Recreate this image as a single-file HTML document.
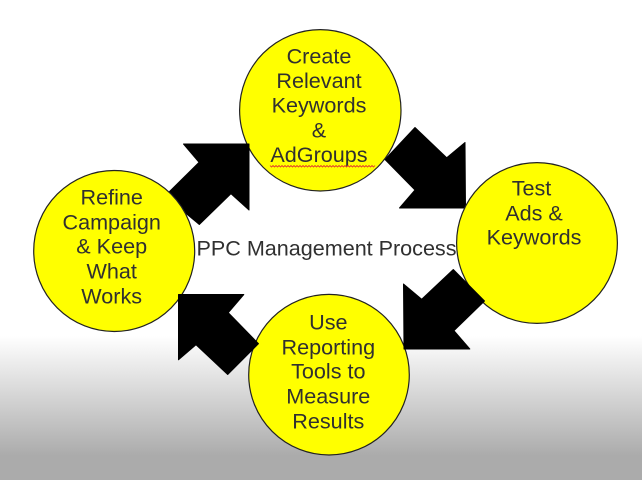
<!DOCTYPE html>
<html>
<head>
<meta charset="utf-8">
<style>
html,body{margin:0;padding:0;background:#fff}
svg{display:block}
text{font-family:"Liberation Sans",Arial,sans-serif;font-size:21.6px;fill:#303030;text-anchor:middle}
circle{fill:#ff0;stroke:#222;stroke-width:1.2}
polygon{fill:#000;stroke:#000;stroke-width:1;stroke-linejoin:round}
</style>
</head>
<body>
<svg width="642" height="480" viewBox="0 0 642 480" xmlns="http://www.w3.org/2000/svg">
<defs>
<linearGradient id="bg" gradientUnits="userSpaceOnUse" x1="0" y1="336" x2="0" y2="456">
<stop offset="0" stop-color="#ffffff"/>
<stop offset="1" stop-color="#ababab"/>
</linearGradient>
</defs>
<rect width="642" height="480" fill="#fff"/>
<rect y="336" width="642" height="144" fill="url(#bg)"/>

<!-- arrow top-right, under top circle -->
<polygon points="415,127.5 446.7,157.7 465,142.5 465.5,208 399.5,208 415,190 385,159.5"/>
<circle cx="320.3" cy="110.3" r="80.7"/>
<!-- arrow top-left -->
<polygon points="249,144 183.5,144 199,162.3 165,196 199.3,224.5 231,193.7 249,210"/>
<circle cx="114.2" cy="251" r="80.5"/>
<circle cx="329" cy="374.7" r="80.3"/>
<!-- arrow bottom-left -->
<polygon points="178.5,294.5 243.8,294.5 228.3,312.7 258.5,343.7 227.7,374.5 196,344.7 178.5,359.8"/>
<circle cx="537" cy="243" r="80.4"/>
<!-- arrow bottom-right -->
<polygon points="453.3,269.5 421.7,299.3 403.5,284 404,349 469.8,349 454,330.7 484.5,301"/>

<!-- top circle -->
<text x="319" y="63.5">Create</text>
<text x="319" y="88">Relevant</text>
<text x="319" y="112.7">Keywords</text>
<text x="319" y="137.3">&amp;</text>
<text x="319" y="162">AdGroups</text>
<path d="M270 165.5l1.5 1.5 1.5-1.5 1.5 1.5 1.5-1.5 1.5 1.5 1.5-1.5 1.5 1.5 1.5-1.5 1.5 1.5 1.5-1.5 1.5 1.5 1.5-1.5 1.5 1.5 1.5-1.5 1.5 1.5 1.5-1.5 1.5 1.5 1.5-1.5 1.5 1.5 1.5-1.5 1.5 1.5 1.5-1.5 1.5 1.5 1.5-1.5 1.5 1.5 1.5-1.5 1.5 1.5 1.5-1.5 1.5 1.5 1.5-1.5 1.5 1.5 1.5-1.5 1.5 1.5 1.5-1.5 1.5 1.5 1.5-1.5 1.5 1.5 1.5-1.5 1.5 1.5 1.5-1.5 1.5 1.5 1.5-1.5 1.5 1.5 1.5-1.5 1.5 1.5 1.5-1.5 1.5 1.5 1.5-1.5 1.5 1.5 1.5-1.5 1.5 1.5 1.5-1.5 1.5 1.5 1.5-1.5 1.5 1.5 1.5-1.5 1.5 1.5 1.5-1.5 1.5 1.5 1.5-1.5 1.5 1.5 1.5-1.5 1.5 1.5 1.5-1.5 1.5 1.5 1.5-1.5 1.5 1.5 1.5-1.5 1.5 1.5 1.5-1.5" fill="none" stroke="#e03030" stroke-width="0.8"/>

<!-- right circle -->
<text x="531.5" y="195.7">Test</text>
<text x="534" y="220.3">Ads &amp;</text>
<text x="534" y="244.7">Keywords</text>

<!-- bottom circle -->
<text x="328.3" y="329.3">Use</text>
<text x="328.3" y="354.5">Reporting</text>
<text x="328.3" y="378.7">Tools to</text>
<text x="328.3" y="403.5">Measure</text>
<text x="328.3" y="428.5">Results</text>

<!-- left circle -->
<text x="111.7" y="204.5">Refine</text>
<text x="111.7" y="229.3">Campaign</text>
<text x="111.7" y="253.5">&amp; Keep</text>
<text x="111.7" y="278.3">What</text>
<text x="111.7" y="303.3">Works</text>

<!-- center label -->
<text x="196.5" y="255.5" style="text-anchor:start" textLength="260" lengthAdjust="spacing">PPC Management Process</text>
</svg>
</body>
</html>
